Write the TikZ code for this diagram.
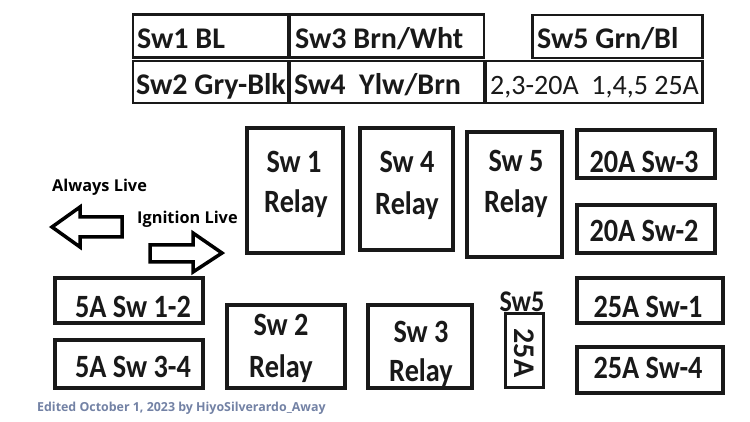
\documentclass[tikz,border=0pt]{standalone}
\usepackage{fontspec}
\setmainfont{Carlito}
\newfontfamily\bxf[FakeStretch=0.87]{Carlito}
\newfontfamily\osf{Open Sans}
\definecolor{edit}{RGB}{115,130,165}
\definecolor{ink}{RGB}{25,25,25}
\tikzset{
  tbl/.style={draw=ink, line width=2.4pt, inner sep=0pt},
  rbox/.style={draw=ink, line width=3.5pt, inner sep=0pt},
  ttxt/.style={inner sep=0pt, anchor=base west, text=ink, font=\bfseries\fontsize{30}{31}\selectfont},
  ttxtl/.style={inner sep=0pt, anchor=base west, text=ink, font=\fontsize{28}{30}\selectfont},
  btxt/.style={inner sep=0pt, anchor=base, text=ink, font=\bxf\bfseries\fontsize{32.5}{34}\selectfont},
  ltxt/.style={inner sep=0pt, anchor=base west, text=black, font=\osf\bfseries\fontsize{16.3}{18}\selectfont},
  blockarrow/.style={draw=black, line width=3.5pt, line join=miter, fill=white},
}
\begin{document}
\begin{tikzpicture}[x=1pt,y=-1pt]
\useasboundingbox[fill=white] (0,0) rectangle (750,422);
% top table
\node[tbl, minimum width=155, minimum height=43] (t1) at (210.5,36) {};
\node[tbl, minimum width=194, minimum height=43] (t3) at (387,36) {};
\node[tbl, minimum width=170, minimum height=43] (t5) at (617.5,36.5) {};
\node[tbl, minimum width=155, minimum height=42] (t2) at (210.5,82) {};
\node[tbl, minimum width=194, minimum height=42] (t4) at (387,82) {};
\node[tbl, minimum width=217, minimum height=42] (t6) at (594,82) {};
\node[ttxt] (t1t) at (137,49) {Sw1 BL};
\node[ttxt] (t3t) at (295,49) {Sw3 Brn/Wht};
\node[ttxt] (t5t) at (537,49) {Sw5 Grn/Bl};
\node[ttxt] (t2t) at (136,95) {Sw2 Gry-Blk};
\node[ttxt] (t4t) at (294,95) {Sw4\ \ Ylw/Brn};
\node[ttxtl] (t6t) at (490,95) {2,3-20A\ \ 1,4,5 25A};
% relays
\node[rbox, minimum width=96, minimum height=125] (r1) at (295,190.5) {};
\node[btxt] (r1a) at (294,173) {Sw 1};
\node[btxt] (r1b) at (296,213) {Relay};
\node[rbox, minimum width=93, minimum height=122] (r4) at (406.5,189) {};
\node[btxt] (r4a) at (407,173) {Sw 4};
\node[btxt] (r4b) at (407,215) {Relay};
\node[rbox, minimum width=95, minimum height=125] (r5) at (514.5,194.5) {};
\node[btxt] (r5a) at (516,172) {Sw 5};
\node[btxt] (r5b) at (516,213) {Relay};
\node[rbox, minimum width=118, minimum height=83] (r2) at (286,346.5) {};
\node[btxt] (r2a) at (281,335) {Sw 2};
\node[btxt] (r2b) at (281,377) {Relay};
\node[rbox, minimum width=104, minimum height=83] (r3) at (420,346.5) {};
\node[btxt] (r3a) at (421,342) {Sw 3};
\node[btxt] (r3b) at (421,381) {Relay};
% fuses
\node[rbox, minimum width=138, minimum height=48] (f3) at (646,154) {};
\node[btxt] (f3t) at (644,173) {20A Sw-3};
\node[rbox, minimum width=138, minimum height=48] (f2) at (646,229) {};
\node[btxt] (f2t) at (644,242) {20A Sw-2};
\node[rbox, minimum width=148, minimum height=45] (f12) at (129,300.5) {};
\node[btxt] (f12t) at (133,317) {5A Sw 1-2};
\node[rbox, minimum width=148, minimum height=48] (f34) at (129,364) {};
\node[btxt] (f34t) at (133,377) {5A Sw 3-4};
\node[rbox, minimum width=146, minimum height=45] (f1) at (650,300.5) {};
\node[btxt] (f1t) at (648,317) {25A Sw-1};
\node[rbox, minimum width=146, minimum height=46] (f4) at (650,370) {};
\node[btxt] (f4t) at (648,378) {25A Sw-4};
\node[rbox, line width=3pt, minimum width=38, minimum height=74] (f5) at (524,350) {};
\node[inner sep=0pt, text=ink, rotate=-90, font=\bfseries\fontsize{30}{32}\selectfont] (f5t) at (524.5,353) {25A};
\node[inner sep=0pt, anchor=base, text=ink, font=\bxf\bfseries\fontsize{30}{31}\selectfont] (f5l) at (522,312) {Sw5};
% arrows
\draw[blockarrow] (52,227) -- (80,207) -- (80,217) -- (122,217) -- (122,237) -- (80,237) -- (80,247) -- cycle;
\draw[blockarrow] (150,245) -- (193,245) -- (193,233) -- (222,253) -- (193,272) -- (193,262) -- (150,262) -- cycle;
\node[ltxt] (al) at (52,192) {Always Live};
\node[ltxt] (il) at (137,224) {Ignition Live};
\node[inner sep=0pt, anchor=base west, text=edit, font=\osf\bfseries\fontsize{12.4}{14}\selectfont] (ed) at (37,411) {Edited October 1, 2023 by HiyoSilverardo\_Away};
\end{tikzpicture}
\end{document}
